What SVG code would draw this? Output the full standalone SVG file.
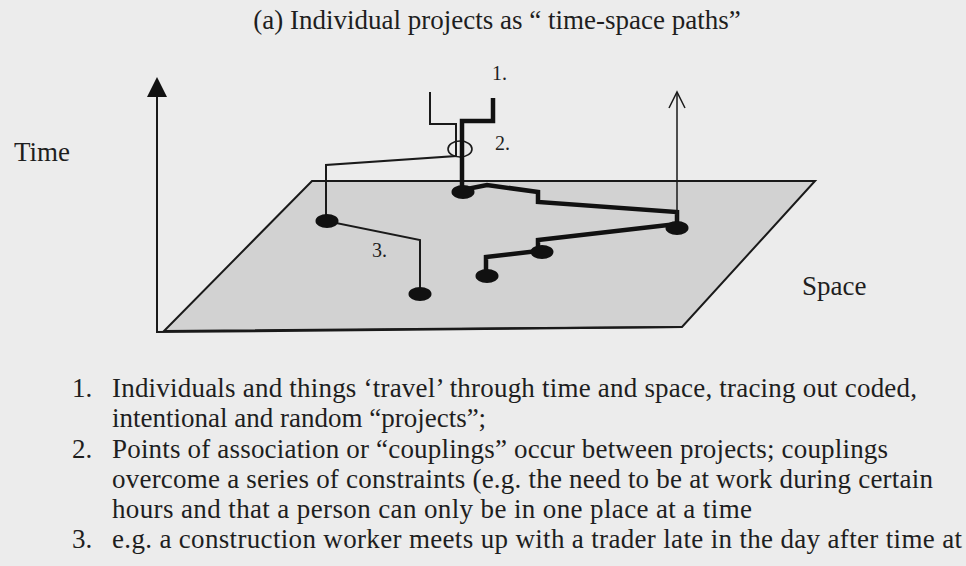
<svg xmlns="http://www.w3.org/2000/svg" width="966" height="566" viewBox="0 0 966 566">
<style>
  .txt { font-family: "Liberation Serif", "Times New Roman", serif; fill: #1e1e1e; }
  .big { font-size: 27px; }
  .lab { font-size: 20px; }
  .thin { fill: none; stroke: #1a1a1a; stroke-width: 2; stroke-linejoin: miter; }
  .thick { fill: none; stroke: #111; stroke-width: 4.5; stroke-linejoin: miter; }
  .dot { fill: #111; }
</style>
<rect x="0" y="0" width="966" height="566" fill="#ececec"/>

<text class="txt big" x="497" y="29" text-anchor="middle" font-size="26.5">(a) Individual projects as “ time-space paths”</text>

<g id="plane">
  <polygon points="312,181 815,181 682,327 164,331" fill="#d2d2d2" stroke="#1a1a1a" stroke-width="2"/>
</g>

<g id="axes">
  <line x1="157" y1="333" x2="157" y2="92" stroke="#1a1a1a" stroke-width="2"/>
  <polygon points="157,77 147,97 167,97" fill="#111"/>
  <line x1="156" y1="332" x2="682" y2="327" stroke="#1a1a1a" stroke-width="2.2"/>
</g>

<g id="connectors">
  <!-- path 1 / 3 thin -->
  <polyline class="thin" points="430,92 430,124 456,124 456,156 326,165 326,221 420,240 420,294"/>
  <!-- coupling loop -->
  <ellipse cx="460" cy="149" rx="12" ry="8" fill="none" stroke="#1a1a1a" stroke-width="1.6"/>
  <!-- thick path -->
  <polyline class="thick" points="493,98 493,121 462,121 462,190 487,185 538,192 538,202 677,212 677,224 538,240 538,251 486,257 486,275"/>
  <!-- right vertical arrow -->
  <line x1="677" y1="228" x2="677" y2="93" stroke="#1a1a1a" stroke-width="1.5"/>
  <polyline points="669,108 677,92 685,108" fill="none" stroke="#1a1a1a" stroke-width="1.5"/>
</g>

<g id="dots">
  <ellipse id="dot-a" class="dot" cx="463" cy="192" rx="11.5" ry="7"/>
  <ellipse id="dot-b" class="dot" cx="327" cy="221" rx="11.5" ry="7"/>
  <ellipse id="dot-c" class="dot" cx="420" cy="294" rx="11.5" ry="7"/>
  <ellipse id="dot-d" class="dot" cx="677" cy="228" rx="11.5" ry="7"/>
  <ellipse id="dot-e" class="dot" cx="542" cy="252" rx="11.5" ry="7"/>
  <ellipse id="dot-f" class="dot" cx="487" cy="276" rx="11.5" ry="7"/>
</g>

<g id="labels">
  <text class="txt lab" x="492" y="80">1.</text>
  <text class="txt lab" x="495" y="150">2.</text>
  <text class="txt lab" x="372" y="257">3.</text>
  <text class="txt big" x="14" y="161" font-size="25.5">Time</text>
  <text class="txt big" x="802" y="295" font-size="26">Space</text>
</g>

<g id="list" class="txt big">
  <text x="72" y="397">1.</text>
  <text x="112" y="397" textLength="805" lengthAdjust="spacing">Individuals and things ‘travel’ through time and space, tracing out coded,</text>
  <text x="112" y="427">intentional and random “projects”;</text>
  <text x="72" y="458">2.</text>
  <text x="112" y="458" textLength="776" lengthAdjust="spacing">Points of association or “couplings” occur between projects; couplings</text>
  <text x="112" y="488" textLength="821" lengthAdjust="spacing">overcome a series of constraints (e.g. the need to be at work during certain</text>
  <text x="112" y="518" textLength="640" lengthAdjust="spacing">hours and that a person can only be in one place at a time</text>
  <text x="72" y="548">3.</text>
  <text x="112" y="548" textLength="850" lengthAdjust="spacing">e.g. a construction worker meets up with a trader late in the day after time at</text>
</g>
</svg>
